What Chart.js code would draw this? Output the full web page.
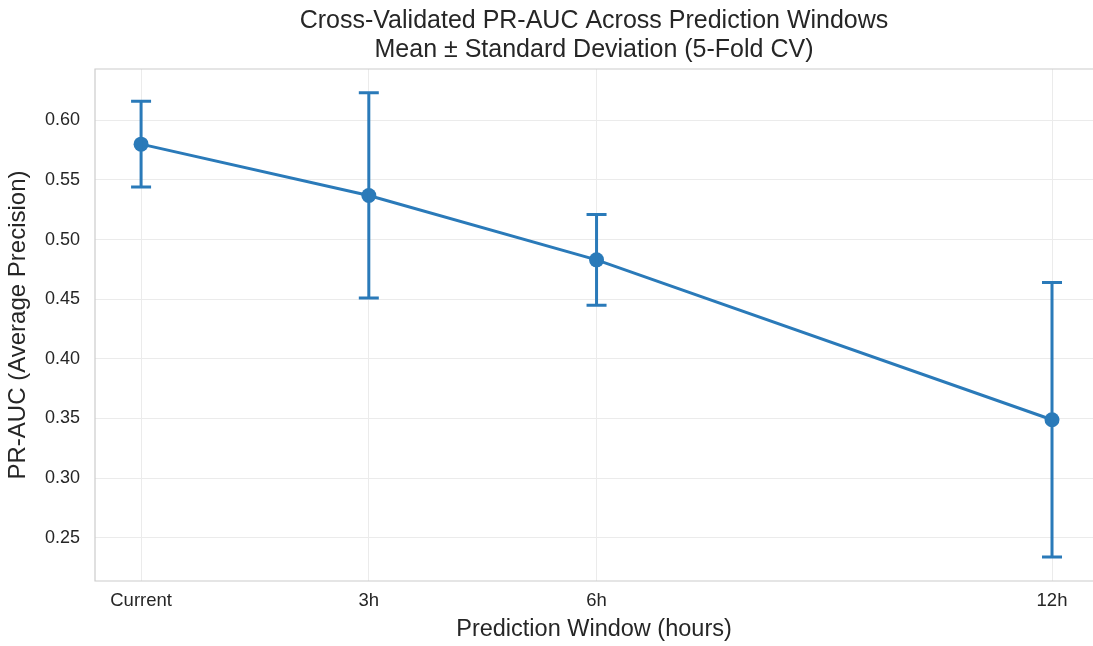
<!DOCTYPE html>
<html>
<head>
<meta charset="utf-8">
<script src="https://cdn.jsdelivr.net/npm/chart.js@4.4.1/dist/chart.umd.min.js"></script>
<style>
    html, body { margin: 0; padding: 0; background: #fff; }
    #wrap { width: 1093px; height: 646px; }
</style>
</head>
<body>
<div id="wrap"><canvas id="prChart" width="1093" height="646"></canvas></div>
<script>
// ===============================
// DATA
// ===============================
const windowHours = [0, 3, 6, 12];
const windowLabels = ["Current", "3h", "6h", "12h"];
const meanPrAuc = [0.580, 0.537, 0.483, 0.349];
const stdPrAuc = [0.036, 0.086, 0.038, 0.115];
const yTicks = [0.25, 0.30, 0.35, 0.40, 0.45, 0.50, 0.55, 0.60];

const BLUE = "#2a7ab9";
const FONT = "'Liberation Sans', Arial, sans-serif";

// ===============================
// ERROR BAR PLUGIN
// ===============================
const errorBars = {
    id: "errorBars",
    afterDatasetsDraw(chart) {
        const ctx = chart.ctx;
        const xs = chart.scales.x;
        const ys = chart.scales.y;
        ctx.save();
        ctx.strokeStyle = BLUE;
        ctx.lineWidth = 3;
        windowHours.forEach((h, i) => {
            const x = xs.getPixelForValue(h);
            const top = ys.getPixelForValue(meanPrAuc[i] + stdPrAuc[i]);
            const bot = ys.getPixelForValue(meanPrAuc[i] - stdPrAuc[i]);
            ctx.beginPath();
            ctx.moveTo(x, top);
            ctx.lineTo(x, bot);
            ctx.moveTo(x - 10, top);
            ctx.lineTo(x + 10, top);
            ctx.moveTo(x - 10, bot);
            ctx.lineTo(x + 10, bot);
            ctx.stroke();
        });
        ctx.restore();
    }
};

// light spines: left, top, bottom (right side is cut off in the original)
const frame = {
    id: "frame",
    beforeDatasetsDraw(chart) {
        const { ctx, chartArea: a } = chart;
        ctx.save();
        ctx.strokeStyle = "#cccccc";
        ctx.lineWidth = 1.2;
        ctx.beginPath();
        ctx.moveTo(chart.width, a.top);
        ctx.lineTo(a.left, a.top);
        ctx.lineTo(a.left, a.bottom);
        ctx.lineTo(chart.width, a.bottom);
        ctx.stroke();
        ctx.restore();
    }
};

new Chart(document.getElementById("prChart"), {
    type: "line",
    data: {
        datasets: [{
            data: windowHours.map((h, i) => ({ x: h, y: meanPrAuc[i] })),
            borderColor: BLUE,
            backgroundColor: BLUE,
            borderWidth: 3,
            pointRadius: 7.5,
            pointHoverRadius: 7.5,
            pointBackgroundColor: BLUE,
            pointBorderWidth: 0,
            tension: 0
        }]
    },
    options: {
        responsive: false,
        animation: false,
        layout: { autoPadding: false, padding: { left: 0, right: 0, top: 0, bottom: 0 } },
        plugins: {
            legend: { display: false },
            tooltip: { enabled: false },
            title: {
                display: true,
                fullSize: false,
                text: ["Cross-Validated PR-AUC Across Prediction Windows", "Mean \u00b1 Standard Deviation (5-Fold CV)"],
                color: "#262626",
                font: { family: FONT, size: 25, weight: "normal", lineHeight: 1.16 },
                padding: { top: 7, bottom: 4 }
            }
        },
        scales: {
            x: {
                type: "linear",
                min: -0.607,
                max: 12.54,
                afterBuildTicks: (s) => { s.ticks = windowHours.map(v => ({ value: v })); },
                afterFit: (s) => { s.height = 65; s.paddingLeft = 0; s.paddingRight = 0; },
                ticks: {
                    color: "#262626",
                    font: { family: FONT, size: 18.5 },
                    padding: 9,
                    maxRotation: 0,
                    callback: (v) => windowLabels[windowHours.indexOf(v)]
                },
                grid: { color: "#ebebeb", lineWidth: 1, drawTicks: false },
                border: { display: false },
                title: {
                    display: true,
                    text: "Prediction Window (hours)",
                    color: "#262626",
                    font: { family: FONT, size: 23.5 },
                    padding: { top: 0, bottom: 2 }
                }
            },
            y: {
                min: 0.2138,
                max: 0.643,
                afterBuildTicks: (s) => { s.ticks = yTicks.map(v => ({ value: v })); },
                afterFit: (s) => { s.width = 95; },
                ticks: {
                    color: "#262626",
                    font: { family: FONT, size: 18 },
                    padding: 15,
                    callback: (v) => v.toFixed(2)
                },
                grid: { color: "#ebebeb", lineWidth: 1, drawTicks: false },
                border: { display: false },
                title: {
                    display: true,
                    text: "PR-AUC (Average Precision)",
                    color: "#262626",
                    font: { family: FONT, size: 24 },
                    padding: { top: 4, bottom: 0 }
                }
            }
        }
    },
    plugins: [frame, errorBars]
});
</script>
</body>
</html>
